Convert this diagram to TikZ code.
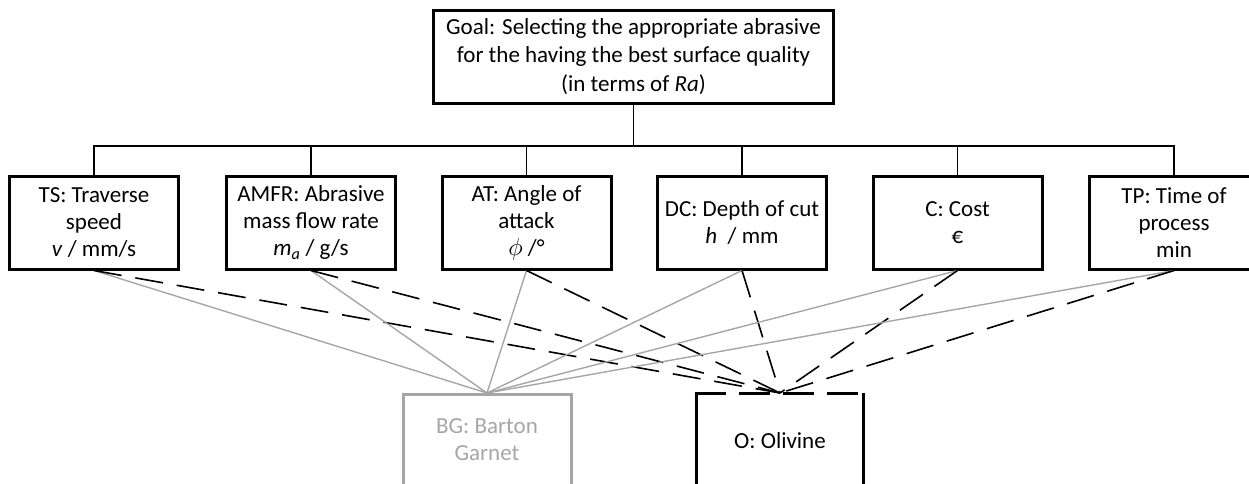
\documentclass[tikz,border=0pt]{standalone}
\usepackage{fontspec}
\setmainfont{Carlito}
\definecolor{lgrey}{HTML}{A6A6A6}
\begin{document}
\begin{tikzpicture}[x=1pt,y=-1pt,
  box/.style={draw, line width=3pt, align=center, minimum width=169pt, minimum height=93pt, inner sep=0pt,
    font=\fontsize{23}{27}\selectfont},
  goalbox/.style={draw, line width=3pt, align=center, minimum width=400pt, minimum height=93pt, inner sep=0pt,
    font=\fontsize{23}{28.5}\selectfont},
  txt/.style={align=center, inner sep=0pt, font=\fontsize{23}{27}\selectfont},
  bus/.style={line width=1.3pt},
  greyline/.style={lgrey, line width=1.4pt},
  dashline/.style={black, line width=1.6pt, dash pattern=on 28pt off 14pt},
  frame/.style={line width=3pt}
]
\useasboundingbox (0,0) rectangle (1249,483);
\clip (0,0) rectangle (1249,483);

\node[goalbox] (goal) at (633.5,56.5) {Goal: Selecting the appropriate abrasive\\for the having the best surface quality\\(in terms of \textit{Ra})};

\node[box] (TS) at (94,222.5) {TS: Traverse\\speed\\\textit{v} / mm/s};
\node[box] (AMFR) at (311,222.5) {AMFR: Abrasive\\mass flow rate\\\textit{m\textsubscript{a}} / g/s};
\node[box] (AT) at (526.5,222.5) {AT: Angle of\\attack\\$\phi$ /°};
\node[box] (DC) at (742,222.5) {DC: Depth of cut\\\textit{h}\ \ / mm};
\node[box] (C) at (957.5,222.5) {C: Cost\\€};
\node[box] (TP) at (1174,222.5) {TP: Time of\\process\\min};

\coordinate (bus) at (633.5,146);
\draw[bus] (goal.south) -- (bus);
\foreach \n in {TS,AMFR,AT,DC,C,TP} \draw[bus] (\n.north) |- (bus);

% bottom boxes (cut off by the picture's lower edge)
\node[draw=lgrey, line width=3pt, minimum width=168pt, minimum height=140pt, anchor=north, inner sep=0pt] (BG) at (487,393) {};
\node[txt, text=lgrey] (BGt) at (487,440) {BG: Barton\\Garnet};
\node[minimum width=167pt, minimum height=140pt, anchor=north, inner sep=0pt] (O) at (780,393) {};
\node[txt] (Ot) at (780,441) {O: Olivine};
\draw[frame] (O.north west) -- (O.south west);
\draw[frame] (O.north east) -- (O.south east);
\draw[frame, dash pattern=on 31pt off 13pt] ([xshift=-1.5pt]O.north west) -- ([xshift=1.5pt]O.north east);

\foreach \n in {TS,AMFR,AT,DC,C,TP} {
  \draw[greyline] (\n.south) -- (BG.north);
  \draw[dashline] (\n.south) -- (O.north);
}
\end{tikzpicture}
\end{document}
